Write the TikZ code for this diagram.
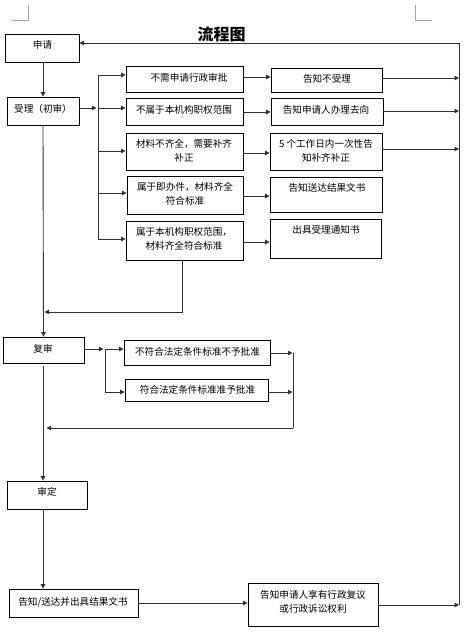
\documentclass[tikz,border=0pt]{standalone}
\usepackage{fontspec}
\setmainfont{Noto Sans CJK SC}
\usetikzlibrary{arrows.meta,calc}
\tikzset{
  boxs/.style={draw=black, line width=0.8pt, rectangle, inner sep=0pt},
  txt/.style={inner sep=0pt, align=center, font=\fontsize{9.6}{14}\selectfont},
  lin/.style={draw=black!80, line width=0.9pt},
  arr/.style={lin, -{Triangle[length=4.5pt,width=4.5pt]}},
  cornermark/.style={draw=black!35, line width=0.7pt}
}
\newcommand\mybox[5]{\node[boxs, minimum width={#4-#2}, minimum height={#5-#3}] (#1) at ({(#2+#4)/2},{(#3+#5)/2}) {};}
\begin{document}
\begin{tikzpicture}[x=1pt,y=-1pt]
\useasboundingbox[fill=white] (0,0) rectangle (469,636);
% corner marks
\draw[cornermark] (12,20) -- (28,20) -- (28,5);
\draw[cornermark] (432,20) -- (415,20) -- (415,5);
% title
\node[inner sep=0pt, font=\bfseries\fontsize{16}{16}\selectfont] (title) at (221.5,34) {流程图};
% boxes
\mybox{sq}{5}{34}{79}{62}
\mybox{sl}{7}{97}{79}{125}
\mybox{c1}{126}{66}{243}{92}
\mybox{c2}{126}{98}{243}{125}
\mybox{c3}{126}{133}{243}{170}
\mybox{c4}{127}{176}{243}{214}
\mybox{c5}{126}{221}{243}{260}
\mybox{d1}{271}{68}{382}{92}
\mybox{d2}{271}{98}{383}{125}
\mybox{d3}{270}{133}{382}{170}
\mybox{d4}{270}{177}{382}{212}
\mybox{d5}{270}{219}{381}{258}
\mybox{fs}{3}{337}{84}{363}
\mybox{ea}{124}{340}{270}{365}
\mybox{eb}{125}{379}{268}{401}
\mybox{sd}{7}{481}{87}{509}
\mybox{gz}{9}{589}{138}{617}
\mybox{qz}{248}{583}{378}{626}
% texts
\node[txt] (sq-t) at (42.5,45) {申请};
\node[txt] (sl-t) at (43,108.5) {受理（初审）};
\node[txt] (c1-t) at (189,77.5) {不需申请行政审批};
\node[txt] (c2-t) at (184,110) {不属于本机构职权范围};
\node[txt] (c3-t) at (184,151) {材料不齐全，需要补齐\\补正};
\node[txt] (c4-t) at (185,194) {属于即办件，材料齐全\\符合标准};
\node[txt] (c5-t) at (184,239) {属于本机构职权范围，\\材料齐全符合标准};
\node[txt] (d1-t) at (327,79) {告知不受理};
\node[txt] (d2-t) at (326,110) {告知申请人办理去向};
\node[txt] (d3-t) at (326,150.5) {5 个工作日内一次性告\\知补齐补正};
\node[txt] (d4-t) at (327,188) {告知送达结果文书};
\node[txt] (d5-t) at (326,230) {出具受理通知书};
\node[txt] (fs-t) at (43,349) {复审};
\node[txt] (ea-t) at (197.5,352) {不符合法定条件标准不予批准};
\node[txt] (eb-t) at (197.5,389.5) {符合法定条件标准准予批准};
\node[txt] (sd-t) at (47,492) {审定};
\node[txt] (gz-t) at (73,602) {告知/送达并出具结果文书};
\node[txt] (qz-t) at (313,601.5) {告知申请人享有行政复议\\或行政诉讼权利};
% coordinates
\coordinate (R0) at (459,43);
\coordinate (R1) at (459,605);
\coordinate (B1t) at (98,75);
\coordinate (B1m) at (98,108);
\coordinate (B1c) at (98,151);
\coordinate (B1d) at (98,193);
\coordinate (B1b) at (98,239);
\coordinate (K) at (182,312);
\coordinate (B2t) at (105,349);
\coordinate (B2b) at (105,392);
\coordinate (B3t) at (293,353);
\coordinate (B3b) at (293,428);
% connectors
\draw[lin] (R1) -- (R0);
\draw[arr] (R0) -- (sq.east |- R0);
\draw[arr] (sl.north |- sq.south) -- (sl.north);
\draw[arr, shorten >=1.5pt] (sl.east |- B1m) -- (B1m);
\draw[lin] (B1t) -- (B1b);
\draw[arr] (B1t) -- (c1.west |- B1t);
\draw[arr] (B1m) -- (c2.west |- B1m);
\draw[arr] (B1c) -- (c3.west |- B1c);
\draw[arr] (B1d) -- (c4.west |- B1d);
\draw[arr] (B1b) -- (c5.west |- B1b);
\draw[arr] (c1.east |- 0,77) -- (d1.west |- 0,77);
\draw[arr] (c2.east |- 0,112) -- (d2.west |- 0,112);
\draw[arr] (c3.east |- 0,153) -- (d3.west |- 0,153);
\draw[arr] (c4.east |- 0,196) -- (d4.west |- 0,196);
\draw[arr] (c5.east |- 0,242) -- (d5.west |- 0,242);
\draw[arr] (d1.east |- 0,78) -- (R0 |- 0,78);
\draw[arr] (d2.east |- 0,111) -- (R0 |- 0,111);
\draw[arr] (d3.east |- 0,149) -- (R0 |- 0,149);
\draw[arr, shorten >=1.5pt] (c5.south -| K) -- (K) -- (sl.south |- K);
\draw[arr] (sl.south) -- (fs.north);
\draw[arr, shorten >=1.5pt] (fs.east |- B2t) -- (B2t);
\draw[lin] (B2t) -- (B2b);
\draw[arr] (B2t) -- (ea.west |- B2t);
\draw[arr] (B2b) -- (eb.west |- B2b);
\draw[arr, shorten >=0.5pt] (ea.east |- B3t) -- (B3t);
\draw[arr, shorten >=0.5pt] (eb.east |- B2b) -- (B3t |- B2b);
\draw[lin] (B3t) -- (B3b);
\draw[arr, shorten >=3.5pt] (B3b) -- (sl.south |- B3b);
\draw[arr] (sl.south |- 0,366) -- (sl.south |- sd.north);
\draw[arr] (sl.south |- sd.south) -- (sl.south |- gz.north);
\draw[arr] (gz.east |- 0,603) -- (qz.west |- 0,603);
\draw[arr] (qz.east |- R1) -- (R1);
\end{tikzpicture}
\end{document}
